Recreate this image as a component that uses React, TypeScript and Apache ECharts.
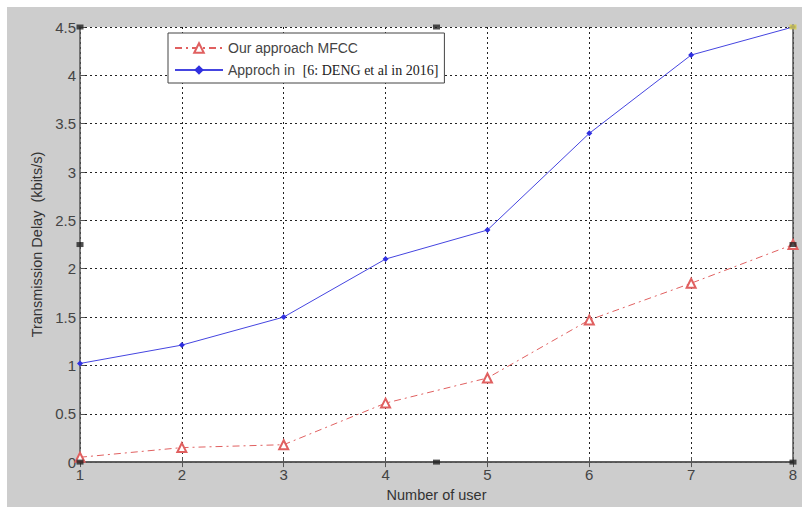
import React, { useEffect, useRef } from "react";
import * as echarts from "echarts";

const users = [1, 2, 3, 4, 5, 6, 7, 8];
const ourMFCC = [0.05, 0.15, 0.18, 0.61, 0.87, 1.47, 1.85, 2.25];
const deng2016 = [1.02, 1.21, 1.5, 2.1, 2.4, 3.4, 4.21, 4.5];
const handleX = [1, 4.5, 8, 1, 8, 1, 4.5, 8];
const handleY = [4.5, 4.5, 4.5, 2.25, 2.25, 0, 0, 0];
const seriesNames = ["Our approach MFCC", "Approch in  [6: DENG et al in 2016]"];

export default function App() {
  const ref = useRef<HTMLDivElement>(null);
  useEffect(() => {
    if (!ref.current) return;
    const chart = echarts.init(ref.current, null, { renderer: "svg" });
    const axisLine = { show: true, lineStyle: { color: "#555", width: 1.5 } };
    const grid = { type: [2, 3], color: "#222", width: 1 };
    const sans = "Liberation Sans, Arial, sans-serif";
    chart.setOption({
      animation: false,
      backgroundColor: "#cdcdcd",
      textStyle: { fontFamily: sans },
      grid: { left: 73, top: 20, right: 9, bottom: 42, show: true, backgroundColor: "#fff", borderWidth: 0 },
      legend: {
        left: 161,
        top: 26,
        orient: "vertical",
        data: seriesNames,
        itemWidth: 48,
        itemHeight: 12,
        itemGap: 8,
        padding: [8, 6, 6, 6],
        backgroundColor: "#fff",
        borderColor: "#444",
        borderWidth: 1,
        textStyle: {
          fontSize: 14,
          color: "#444",
          fontFamily: sans,
          rich: {
            a: { fontSize: 14, color: "#444", fontFamily: sans },
            b: { fontSize: 14, color: "#222", fontFamily: "Liberation Serif, Times New Roman, serif" },
          },
        },
        formatter: (name: string) => {
          if (name.startsWith("Approch")) return "{a|Approch in}  {b|[6: DENG et al in 2016]}";
          return name;
        },
      },
      xAxis: [
        {
          type: "value",
          min: 1,
          max: 8,
          interval: 1,
          name: "Number of user",
          nameLocation: "middle",
          nameGap: 19,
          nameTextStyle: { fontSize: 14.5, color: "#333" },
          axisLine,
          axisTick: { show: true, inside: true, length: 5, lineStyle: { color: "#555" } },
          axisLabel: { fontSize: 15, color: "#444", margin: 5 },
          splitLine: { show: true, lineStyle: grid },
        },
        {
          type: "value",
          position: "top",
          min: 1,
          max: 8,
          interval: 1,
          axisLine,
          axisTick: { show: true, inside: true, length: 5, lineStyle: { color: "#555" } },
          axisLabel: { show: false },
          splitLine: { show: false },
        },
      ],
      yAxis: [
        {
          type: "value",
          min: 0,
          max: 4.5,
          interval: 0.5,
          name: "Transmission Delay  (kbits/s)",
          nameLocation: "middle",
          nameGap: 32,
          nameTextStyle: { fontSize: 14.5, color: "#333" },
          axisLine,
          axisTick: { show: true, inside: true, length: 5, lineStyle: { color: "#555" } },
          axisLabel: { fontSize: 15, color: "#444", margin: 4 },
          splitLine: { show: true, lineStyle: grid },
        },
        {
          type: "value",
          position: "right",
          min: 0,
          max: 4.5,
          interval: 0.5,
          axisLine,
          axisTick: { show: true, inside: true, length: 5, lineStyle: { color: "#555" } },
          axisLabel: { show: false },
          splitLine: { show: false },
        },
      ],
      series: [
        {
          name: seriesNames[0],
          type: "line",
          data: users.map((u, i) => [u, ourMFCC[i]]),
          symbol: "emptyTriangle",
          symbolSize: 9,
          lineStyle: { color: "#e06060", width: 1, type: [7, 4, 2, 4] },
          itemStyle: { color: "#e06060", borderColor: "#e06060", borderWidth: 1 },
          z: 3,
        },
        {
          name: seriesNames[1],
          type: "line",
          data: users.map((u, i) => [u, deng2016[i]]),
          symbol: "diamond",
          symbolSize: 6,
          lineStyle: { color: "#4545e0", width: 1 },
          itemStyle: { color: "#3030e0" },
          z: 3,
        },
        {
          name: "handles",
          type: "scatter",
          data: handleX.map((x, i) => ({
            value: [x, handleY[i]],
            itemStyle: { color: i === 2 ? "#d8d040" : "#222" },
          })),
          symbol: "rect",
          symbolSize: [7, 5],
          z: 5,
          silent: true,
        },
      ],
    });
    return () => chart.dispose();
  }, []);
  return (
    <div style={{ position: "fixed", left: 0, top: 0, width: 802, height: 507, background: "#fff" }}>
      <div ref={ref} style={{ position: "absolute", left: 7, top: 7, width: 795, height: 500 }} />
    </div>
  );
}
